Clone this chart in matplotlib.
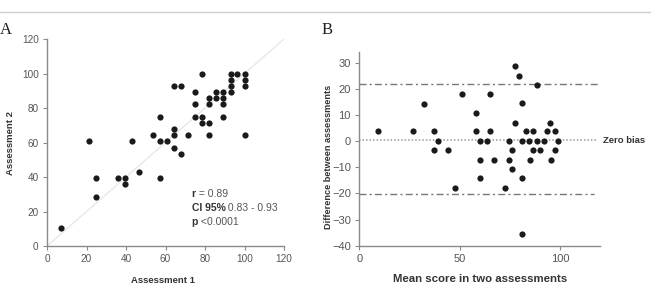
import matplotlib
matplotlib.use("Agg")
import matplotlib.pyplot as plt
from matplotlib.lines import Line2D

# ---- Panel A data: Assessment 1 vs Assessment 2 ----
assess1 = [7.1, 21.4, 25.0, 25.0, 35.7, 39.3, 39.3, 42.9, 46.4, 53.6,
           57.1, 57.1, 57.1, 60.7, 64.3, 64.3, 64.3, 64.3, 67.9, 67.9,
           71.4, 75.0, 75.0, 75.0, 78.6, 78.6, 78.6, 82.1, 82.1, 82.1,
           82.1, 85.7, 85.7, 89.3, 89.3, 89.3, 89.3, 92.9, 92.9, 92.9,
           92.9, 96.4, 100.0, 100.0, 100.0, 100.0]
assess2 = [10.7, 60.7, 39.3, 28.6, 39.3, 39.3, 35.7, 60.7, 42.9, 64.3,
           75.0, 60.7, 39.3, 60.7, 92.9, 67.9, 64.3, 57.1, 92.9, 53.6,
           64.3, 89.3, 82.1, 75.0, 100.0, 75.0, 71.4, 85.7, 82.1, 71.4,
           64.3, 89.3, 85.7, 89.3, 85.7, 82.1, 75.0, 100.0, 96.4, 92.9,
           89.3, 100.0, 100.0, 96.4, 92.9, 64.3]

# ---- Panel B data: Bland-Altman ----
mean_score = [9.3, 26.9, 32.1, 37.4, 39.2, 37.4, 44.3, 51.0, 47.8, 58.1,
              58.1, 60.0, 60.1, 60.1, 63.5, 65.3, 65.3, 67.1, 72.6, 74.4,
              74.4, 75.9, 75.9, 77.6, 77.6, 79.7, 80.9, 80.9, 80.9, 80.9,
              83.0, 84.7, 85.0, 86.7, 86.7, 88.4, 88.4, 90.2, 92.0, 93.3,
              95.2, 95.3, 97.3, 97.3, 99.1]
difference = [3.7, 3.7, 14.3, 3.7, 0.0, -3.5, -3.5, 18.0, -17.8, 10.6,
              3.7, 0.0, -7.1, -14.2, 0.0, 18.0, 3.9, -7.1, -17.8, 0.0,
              -7.1, -3.5, -10.5, 28.7, 7.0, 25.0, 14.5, 0.0, -14.2, -35.5,
              3.9, 0.0, -7.1, 3.9, -3.5, 21.3, 0.0, -3.5, 0.0, 3.9,
              7.0, -7.1, 3.9, -3.5, 0.0]
bias = 0.4
upper_loa = 21.9
lower_loa = -20.1

a_ticks = [0, 20, 40, 60, 80, 100, 120]
b_xticks = [0, 50, 100]
b_yticks = [-40, -30, -20, -10, 0, 10, 20, 30]

LABEL_FONT = ["Liberation Sans Narrow", "Liberation Sans", "DejaVu Sans"]
TICK_FONT = ["Liberation Sans", "DejaVu Sans"]
SPINE = "#8a8a8a"
TICKC = "#555555"
LABC = "#333333"
DOT = "#1a1a1a"

fig = plt.figure(figsize=(6.51, 2.92), dpi=100)
fig.add_artist(Line2D([0, 1], [0.958, 0.958], transform=fig.transFigure,
                      color="#cccccc", lw=1.0))

def style_axes(ax, fs):
    for s in ["top", "right"]:
        ax.spines[s].set_visible(False)
    for s in ["left", "bottom"]:
        ax.spines[s].set_color(SPINE)
        ax.spines[s].set_linewidth(1.0)
    ax.tick_params(direction="out", length=3, width=0.8, color=SPINE,
                   labelcolor=TICKC, labelsize=fs, pad=3)
    for lab in ax.get_xticklabels() + ax.get_yticklabels():
        lab.set_family(TICK_FONT)

# ---------- Panel A ----------
axA = fig.add_axes([0.0722, 0.1575, 0.3641, 0.7089])
axA.plot([0, 120], [0, 120], color="#e8e8e8", lw=1.0, zorder=1)
axA.scatter(assess1, assess2, s=20, color=DOT, zorder=3, linewidths=0)
axA.set_xlim(0, 120)
axA.set_ylim(0, 120)
axA.set_xticks(a_ticks)
axA.set_yticks(a_ticks)
style_axes(axA, 7.2)
axA.set_xlabel("Assessment 1", family=LABEL_FONT, fontweight="bold",
               fontsize=6.8, color=LABC, va="center")
axA.set_ylabel("Assessment 2", family=LABEL_FONT, fontweight="bold",
               fontsize=6.8, color=LABC, va="center")
axA.xaxis.set_label_coords(0.49, -0.169)
axA.yaxis.set_label_coords(-0.156, 0.5)

ann_x = 73.2
for yv, bold, reg in [(30.0, "r", " = 0.89"),
                      (21.9, "CI 95%", " 0.83 - 0.93"),
                      (14.0, "p", " <0.0001")]:
    t = axA.text(ann_x, yv, bold, fontsize=7.5, fontweight="bold",
                 color="#333333", va="center", ha="left", family=LABEL_FONT)
    axA.annotate(reg, xy=(1, 0.5), xycoords=t, va="center", ha="left",
                 fontsize=7.5, color="#555555", family=TICK_FONT)

fig.text(0.0, 0.884, "A", family=["Liberation Serif", "DejaVu Serif"],
         fontsize=12, color="#222222", va="baseline", ha="left")

# ---------- Panel B ----------
axB = fig.add_axes([0.5519, 0.1586, 0.3701, 0.6626])
axB.scatter(mean_score, difference, s=20, color=DOT, zorder=3, linewidths=0)
axB.set_xlim(0, 120)
axB.set_ylim(-40, 34)
axB.set_xticks(b_xticks)
axB.set_yticks(b_yticks)
style_axes(axB, 8)
axB.plot([0, 119], [upper_loa, upper_loa], color="#777777", lw=1.0,
         dashes=(5, 2.3, 1.5, 2.3), zorder=2, clip_on=False)
axB.plot([0, 117], [lower_loa, lower_loa], color="#777777", lw=1.0,
         dashes=(5, 2.3, 1.5, 2.3), zorder=2, clip_on=False)
axB.plot([0, 119], [bias, bias], color="#999999", lw=1.1,
         dashes=(1, 1.3), zorder=2, clip_on=False)
axB.text(121.3, bias, "Zero bias", family=LABEL_FONT, fontweight="bold",
         fontsize=6.8, color=LABC, va="center", ha="left", clip_on=False)
axB.set_xlabel("Mean score in two assessments", family=LABEL_FONT,
               fontweight="bold", fontsize=8.2, color=LABC, va="center")
axB.set_ylabel("Difference between assessments", family=LABEL_FONT,
               fontweight="bold", fontsize=6.6, color=LABC, va="center")
axB.xaxis.set_label_coords(0.50, -0.172)
axB.yaxis.set_label_coords(-0.126, 0.46)

fig.text(0.4945, 0.884, "B", family=["Liberation Serif", "DejaVu Serif"],
         fontsize=12, color="#222222", va="baseline", ha="left")

fig.savefig("out.png", dpi=100)
